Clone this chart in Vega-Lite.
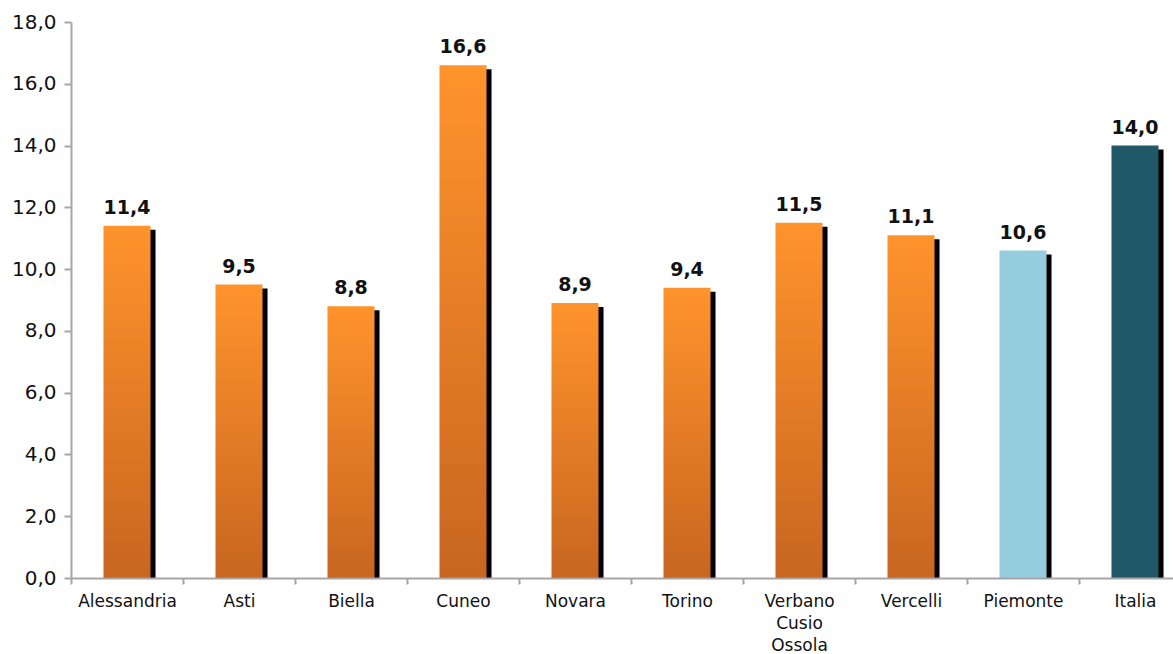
{
  "$schema": "https://vega.github.io/schema/vega-lite/v6.json",
  "autosize": "none",
  "padding": {"left": 71, "top": 22, "right": 0, "bottom": 76},
  "width": 1120,
  "height": 556,
  "background": "white",
  "config": {
    "view": {"stroke": null},
    "font": "DejaVu Sans",
    "locale": {
      "number": {"decimal": ",", "thousands": ".", "grouping": [3], "currency": ["", " €"]}
    }
  },
  "data": {
    "values": [
      {"region": "Alessandria", "value": 11.4},
      {"region": "Asti", "value": 9.5},
      {"region": "Biella", "value": 8.8},
      {"region": "Cuneo", "value": 16.6},
      {"region": "Novara", "value": 8.9},
      {"region": "Torino", "value": 9.4},
      {"region": "Verbano Cusio Ossola", "value": 11.5},
      {"region": "Vercelli", "value": 11.1},
      {"region": "Piemonte", "value": 10.6},
      {"region": "Italia", "value": 14.0}
    ]
  },
  "encoding": {
    "x": {
      "field": "region",
      "type": "nominal",
      "sort": null,
      "title": null,
      "scale": {"paddingInner": 0, "paddingOuter": 0},
      "axis": {
        "zindex": 1,
        "labelAngle": 0,
        "labelFont": "DejaVu Sans",
        "labelFontSize": 17,
        "labelColor": "#111111",
        "labelPadding": 9,
        "labelLineHeight": 22,
        "labelBaseline": "top",
        "labelExpr": "datum.label == 'Verbano Cusio Ossola' ? ['Verbano','Cusio','Ossola'] : datum.label",
        "domainColor": "#A6A6A6",
        "domainWidth": 2,
        "tickColor": "#A6A6A6",
        "tickWidth": 2,
        "tickSize": 6,
        "tickBand": "extent"
      }
    },
    "y": {
      "field": "value",
      "type": "quantitative",
      "title": null,
      "scale": {"domain": [0, 18], "nice": false},
      "axis": {
        "zindex": 1,
        "values": [0, 2, 4, 6, 8, 10, 12, 14, 16, 18],
        "format": ".1f",
        "labelFont": "DejaVu Sans",
        "labelFontSize": 20,
        "labelColor": "#111111",
        "labelPadding": 8,
        "grid": false,
        "domainColor": "#A6A6A6",
        "domainWidth": 2,
        "tickColor": "#A6A6A6",
        "tickWidth": 2,
        "tickSize": 7
      }
    }
  },
  "layer": [
    {
      "mark": {"type": "bar", "color": "black", "clip": true, "width": {"band": 0.42}, "xOffset": 5, "yOffset": 4}
    },
    {
      "mark": {"type": "bar", "width": {"band": 0.42}},
      "encoding": {
        "color": {
          "condition": [
            {"test": "datum.region === 'Piemonte'", "value": "#96CDDE"},
            {"test": "datum.region === 'Italia'", "value": "#215868"}
          ],
          "value": {
            "gradient": "linear",
            "x1": 0, "y1": 0, "x2": 0, "y2": 1,
            "stops": [
              {"offset": 0, "color": "#FF932C"},
              {"offset": 1, "color": "#C8661F"}
            ]
          }
        }
      }
    },
    {
      "mark": {"type": "text", "dy": -12, "baseline": "alphabetic", "fontSize": 19, "fontWeight": "bold", "font": "DejaVu Sans", "color": "#111111"},
      "encoding": {
        "text": {"field": "value", "type": "quantitative", "format": ".1f"}
      }
    }
  ]
}
